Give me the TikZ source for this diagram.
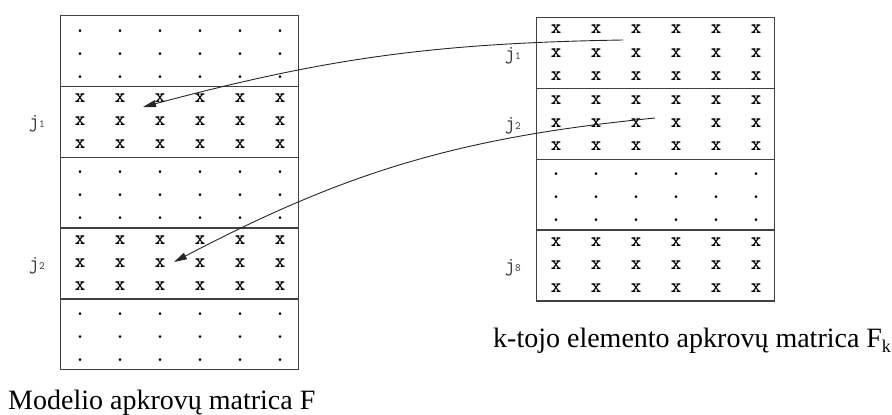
\documentclass[tikz,border=0pt]{standalone}
\usepackage{fontspec}
\setmainfont{Liberation Serif}
\usetikzlibrary{arrows.meta,positioning}

\newcommand{\jsub}[1]{{\fontsize{11}{11}\selectfont #1}}

\tikzset{
  block/.style={draw=black!75,line width=1.3pt,minimum width=238pt,
                minimum height=70.8pt,inner sep=0pt,anchor=north west},
  cell/.style={font=\fontsize{20}{20}\ttfamily\bfseries,inner sep=0pt,anchor=base},
  jlab/.style={font=\fontsize{20}{20}\ttfamily,text=black!80,inner sep=0pt,anchor=base east},
  caption/.style={font=\fontsize{28}{30}\selectfont,inner sep=0pt,anchor=base west},
  maparrow/.style={line width=0.9pt,draw=black!85,-{Triangle[length=13pt,width=7pt]}}
}

\begin{document}
\begin{tikzpicture}[x=1pt,y=-1pt]
  \useasboundingbox (0,0) rectangle (892,415);

  %% Model matrix F (left): 5 row blocks
  \foreach \b/\sym in {1/.,2/x,3/.,4/x,5/.} {
    \node[block] (F\b) at (60,{15+70.8*(\b-1)}) {};
    \foreach \r in {0,1,2}
      \foreach \c in {0,...,5}
        \node[cell] (F\b-\r-\c) at ({80+40*\c},{15+70.8*(\b-1)+17+23*\r}) {\sym};
  }

  %% Element matrix Fk (right): 4 row blocks
  \foreach \b/\sym in {1/x,2/x,3/.,4/x} {
    \node[block] (K\b) at (536,{17+70.8*(\b-1)}) {};
    \foreach \r in {0,1,2}
      \foreach \c in {0,...,5}
        \node[cell] (K\b-\r-\c) at ({556+40*\c},{17+70.8*(\b-1)+17+23*\r}) {\sym};
  }

  %% Row labels
  \node[jlab] (Fj1) at (45,{15+70.8+42}) {j\jsub{1}};
  \node[jlab] (Fj2) at (45,{15+3*70.8+42}) {j\jsub{2}};
  \node[jlab] (Kj1) at (521,{17+42}) {j\jsub{1}};
  \node[jlab] (Kj2) at (521,{17+70.8+42}) {j\jsub{2}};
  \node[jlab] (Kj8) at (521,{17+3*70.8+42}) {j\jsub{8}};

  %% Mapping arrows
  \coordinate (src1) at (623,40);
  \coordinate (dst1) at (143,107);
  \coordinate (src2) at (655,118);
  \coordinate (dst2) at (174,262);
  \draw[maparrow] (src1) to[bend right=7] (dst1);
  \draw[maparrow] (src2) to[bend right=11] (dst2);

  %% Captions
  \node[caption] (capF) at (8,409) {Modelio apkrovų matrica F};
  \node[caption] (capK) at (493,347)
    {k-tojo elemento apkrovų matrica F\raisebox{-5pt}{\fontsize{18}{18}\selectfont k}};
\end{tikzpicture}
\end{document}
